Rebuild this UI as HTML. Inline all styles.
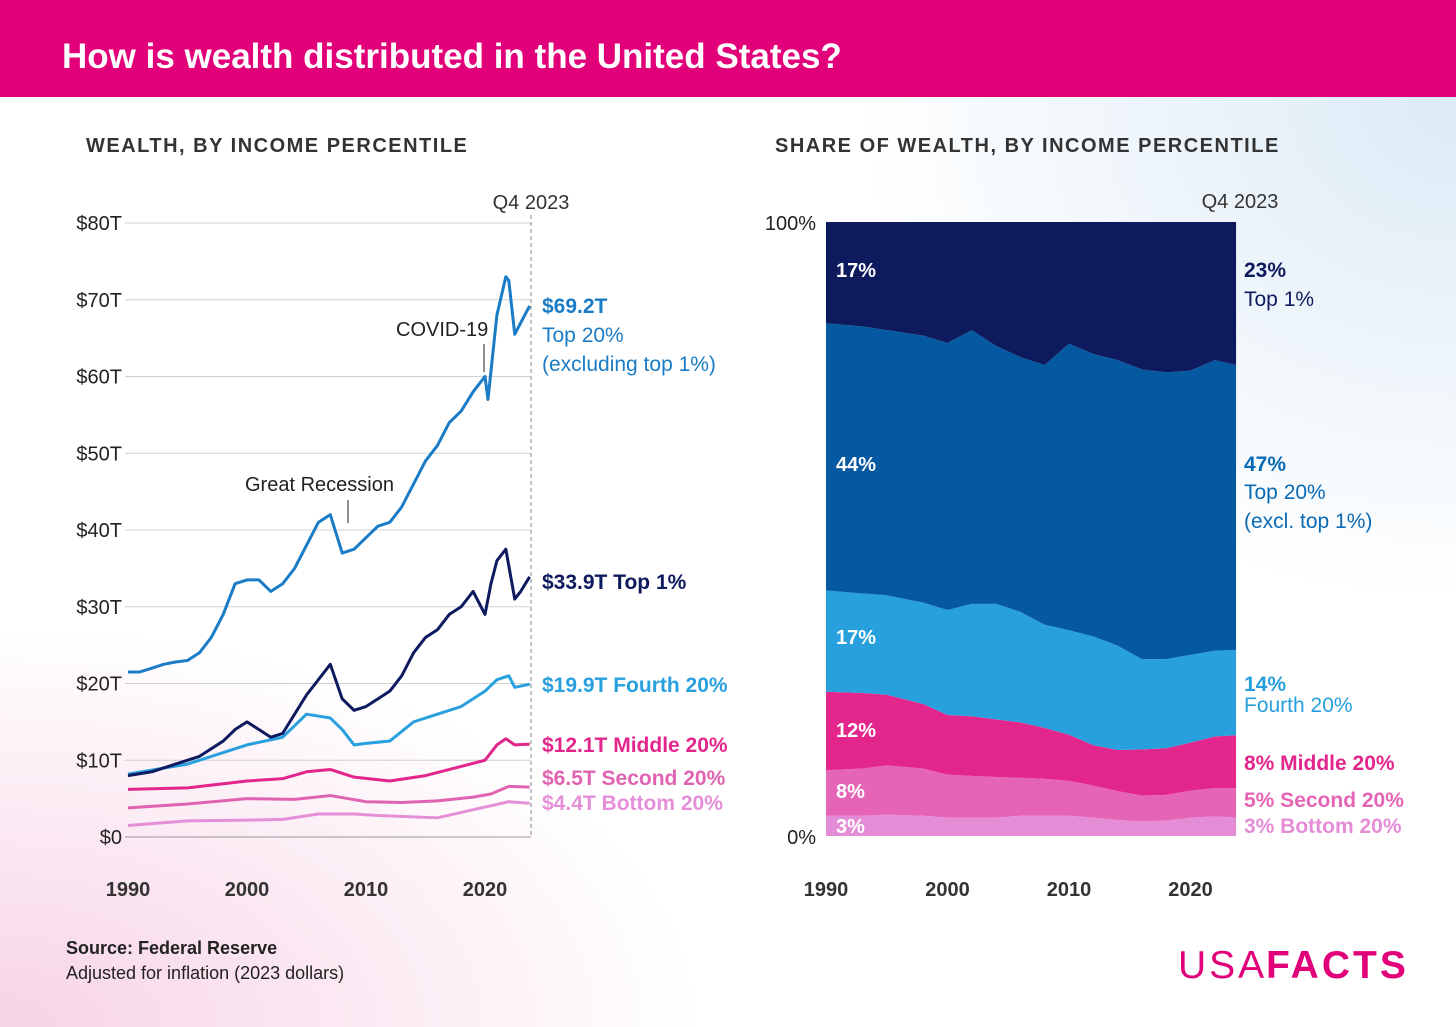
<!DOCTYPE html>
<html><head><meta charset="utf-8"><style>
body{margin:0;width:1456px;height:1027px;overflow:hidden;font-family:"Liberation Sans",sans-serif;}
#bg{position:absolute;left:0;top:0;width:1456px;height:1027px;background:
radial-gradient(ellipse 700px 400px at 0% 100%,#f7d3e6 0%,rgba(255,255,255,0) 100%),
radial-gradient(ellipse 600px 500px at 100% 10%,#dcebf6 0%,rgba(255,255,255,0) 100%),#fff;}
#hdr{position:absolute;left:0;top:0;width:1456px;height:97px;background:#e2007a;}
#hdr span{position:absolute;left:62px;top:37px;color:#fff;font-size:35px;font-weight:bold;}
svg{position:absolute;left:0;top:0}
</style></head><body>
<div id="bg"></div>
<div id="hdr"><span>How is wealth distributed in the United States?</span></div>
<svg id="s" width="1456" height="1027" font-family="Liberation Sans, sans-serif"></svg>
<script>
// ---- left chart data (trillions, 2023 dollars) ----
const top20Years=[1990,1991,1992,1993,1994,1995,1996,1997,1998,1999,2000,2001,2002,2003,2004,2005,2006,2007,2008,2009,2010,2011,2012,2013,2014,2015,2016,2017,2018,2019,2020,2020.25,2021,2021.75,2022,2022.5,2023,2023.75];
const top20Vals=[21.5,21.5,22,22.5,22.8,23,24,26,29,33,33.5,33.5,32,33,35,38,41,42,37,37.5,39,40.5,41,43,46,49,51,54,55.5,58,60,57,68,73,72.5,65.5,67,69.2];
const top1Years=[1990,1992,1994,1996,1998,1999,2000,2001,2002,2003,2004,2005,2006,2007,2008,2009,2010,2011,2012,2013,2014,2015,2016,2017,2018,2019,2020,2020.5,2021,2021.75,2022.5,2023,2023.75];
const top1Vals=[8,8.5,9.5,10.5,12.5,14,15,14,13,13.5,16,18.5,20.5,22.5,18,16.5,17,18,19,21,24,26,27,29,30,32,29,33,36,37.5,31,32,33.9];
const fourthYears=[1990,1995,2000,2003,2005,2007,2008,2009,2010,2012,2014,2016,2018,2020,2021,2022,2022.5,2023.75];
const fourthVals=[8.2,9.5,12,13,16,15.5,14,12,12.2,12.5,15,16,17,19,20.5,21,19.5,19.9];
const middleYears=[1990,1995,2000,2003,2005,2007,2009,2012,2015,2018,2020,2021,2021.75,2022.5,2023.75];
const middleVals=[6.2,6.4,7.3,7.6,8.5,8.8,7.8,7.3,8,9.2,10,12,12.8,12,12.1];
const secondYears=[1990,1995,2000,2004,2007,2010,2013,2016,2019,2020.5,2022,2023.75];
const secondVals=[3.8,4.3,5,4.9,5.4,4.6,4.5,4.7,5.2,5.6,6.6,6.5];
const bottomYears=[1990,1995,2000,2003,2006,2009,2011,2016,2018,2020,2022,2023.75];
const bottomVals=[1.5,2.1,2.2,2.3,3.0,3.0,2.8,2.5,3.2,3.9,4.6,4.4];
const yTicks=[0,10,20,30,40,50,60,70,80];
const xTicks=[1990,2000,2010,2020];
// ---- right chart data (share %) ----
const shareYears=[1990,1993,1995,1998,2000,2002,2004,2006,2008,2010,2012,2014,2016,2018,2020,2022,2023.75];
const shareBottom=[3.3,3.3,3.5,3.3,3.0,3.0,3.0,3.3,3.3,3.3,3.0,2.6,2.4,2.5,3.0,3.2,3.0];
const shareSecond=[7.4,7.7,8.0,7.7,7.0,6.8,6.6,6.2,6.0,5.7,5.2,4.7,4.2,4.2,4.4,4.6,4.8];
const shareMiddle=[12.8,12.3,11.5,10.5,9.7,9.7,9.4,9.0,8.3,7.5,6.6,6.7,7.5,7.6,7.8,8.4,8.6];
const shareFourth=[16.5,16.2,16.2,16.5,17.1,18.3,18.8,18.0,16.8,17.0,17.7,17.0,14.7,14.5,14.3,14.0,13.9];
const shareTop20=[43.5,43.5,43.2,43.5,43.5,44.6,42.0,41.5,42.3,46.7,46.0,46.5,47.2,46.7,46.3,47.3,46.4];
const shareTop1=[16.5,17,17.6,18.5,19.7,17.6,20.2,22,23.3,19.8,21.5,22.5,24,24.5,24.2,22.5,23.3];

const NS="http://www.w3.org/2000/svg",S=document.getElementById('s');
function el(t,a,txt){const e=document.createElementNS(NS,t);for(const k in a)e.setAttribute(k,a[k]);if(txt!==undefined)e.textContent=txt;S.appendChild(e);return e;}
const lx=y=>128+(y-1990)*11.9, ly=v=>837-v*7.675;
const rx=y=>826+(y-1990)*12.15, ry=p=>836-p*6.14;

let t=el('text',{x:86,y:152,'font-size':20,'font-weight':'bold',fill:'#333','letter-spacing':'1.5'},'WEALTH, BY INCOME PERCENTILE');

t=el('text',{x:775,y:152,'font-size':20,'font-weight':'bold',fill:'#333','letter-spacing':'1.5'},'SHARE OF WEALTH, BY INCOME PERCENTILE');


yTicks.forEach(v=>{
 const g=el('line',{x1:125,x2:531,y1:ly(v),y2:ly(v),stroke:v?'#d0d0d0':'#999','stroke-width':1});
 
 const l=el('text',{x:122,y:ly(v)+7,'font-size':20,fill:'#222','text-anchor':'end'},'$'+v+(v?'T':''));
 
});
xTicks.forEach(y=>{
 const a=el('text',{x:lx(y),y:896,'font-size':20,'font-weight':'bold',fill:'#333','text-anchor':'middle'},y);
 
 const b=el('text',{x:rx(y),y:896,'font-size':20,'font-weight':'bold',fill:'#333','text-anchor':'middle'},y);
 
});
let d=el('line',{x1:531,x2:531,y1:215,y2:837,stroke:'#888','stroke-dasharray':'4,3'});

t=el('text',{x:531,y:209,'font-size':20,fill:'#333','text-anchor':'middle'},'Q4 2023');


const series=[[bottomYears,bottomVals,'#e58fd8','bottom-20-line'],[secondYears,secondVals,'#e063b2','second-20-line'],[middleYears,middleVals,'#e3268c','middle-20-line'],[fourthYears,fourthVals,'#29a0de','fourth-20-line'],[top1Years,top1Vals,'#0d1a5e','top-1-line'],[top20Years,top20Vals,'#1a7cc6','top-20-line']];
series.forEach(s=>{
 const p=el('polyline',{points:s[0].map((y,i)=>lx(y)+','+ly(s[1][i])).join(' '),fill:'none',stroke:s[2],'stroke-width':3,'stroke-linejoin':'round'});
 
});
const labs=[[313,'$69.2T','#1a7cc6',1],[342,'Top 20%','#1a7cc6',0],[371,'(excluding top 1%)','#1a7cc6',0],[589,'$33.9T Top 1%','#0d1a5e',1],[692,'$19.9T Fourth 20%','#29a0de',1],[752,'$12.1T Middle 20%','#e3268c',1],[785,'$6.5T Second 20%','#e063b2',1],[810,'$4.4T Bottom 20%','#e58fd8',1]];
labs.forEach(l=>{const e=el('text',{x:542,y:l[0],'font-size':21,fill:l[2],'font-weight':l[3]?'bold':'normal'},l[1]);});
t=el('text',{x:396,y:336,'font-size':20,fill:'#222'},'COVID-19');
d=el('line',{x1:484,x2:484,y1:344,y2:372,stroke:'#222'});
t=el('text',{x:245,y:491,'font-size':20,fill:'#222'},'Great Recession');
d=el('line',{x1:348,x2:348,y1:500,y2:523,stroke:'#222'});

// right stacked areas
const groups=[[shareBottom,'#e48dd6','bottom-20-area'],[shareSecond,'#e564b5','second-20-area'],[shareMiddle,'#e3268c','middle-20-area'],[shareFourth,'#27a0dd','fourth-20-area'],[shareTop20,'#0559a0','top-20-area'],[shareTop1,'#0d1a5e','top-1-area']];
const tot=shareYears.map((_,i)=>groups.reduce((a,g)=>a+g[0][i],0));
let base=shareYears.map(()=>0);
groups.forEach(g=>{
 const top=base.map((b,i)=>b+g[0][i]/tot[i]*100);
 const pts=shareYears.map((y,i)=>rx(y)+','+ry(top[i])).concat(shareYears.map((y,i)=>rx(y)+','+ry(base[i])).reverse());
 const p=el('polygon',{points:pts.join(' '),fill:g[1]});
 
 base=top;
});
[[230,'100%'],[844,'0%']].forEach(a=>{const e=el('text',{x:816,y:a[0],'font-size':20,fill:'#222','text-anchor':'end'},a[1]);});
t=el('text',{x:1240,y:208,'font-size':20,fill:'#333','text-anchor':'middle'},'Q4 2023');
[[277,'17%'],[471,'44%'],[644,'17%'],[737,'12%'],[798,'8%'],[833,'3%']].forEach(a=>{const e=el('text',{x:836,y:a[0],'font-size':20,'font-weight':'bold',fill:'#fff'},a[1]);});
const rl=[[277,'23%','#0d1a5e',1],[306,'Top 1%','#0d1a5e',0],[471,'47%','#0a6ab4',1],[499,'Top 20%','#0a6ab4',0],[528,'(excl. top 1%)','#0a6ab4',0],[691,'14%','#27a0dd',1],[712,'Fourth 20%','#27a0dd',0],[770,'8% Middle 20%','#e3268c',1],[807,'5% Second 20%','#e564b5',1],[833,'3% Bottom 20%','#e48dd6',1]];
rl.forEach(l=>{const e=el('text',{x:1244,y:l[0],'font-size':21,fill:l[2],'font-weight':l[3]?'bold':'normal'},l[1]);});

t=el('text',{x:66,y:954,'font-size':18,'font-weight':'bold',fill:'#222'},'Source: Federal Reserve');
t=el('text',{x:66,y:979,'font-size':18,fill:'#222'},'Adjusted for inflation (2023 dollars)');
t=el('text',{x:1178,y:978,'font-size':39,fill:'#e2007a','letter-spacing':'3'},'USA');
t=el('text',{x:1266,y:978,'font-size':39,'font-weight':'bold',fill:'#e2007a','letter-spacing':'3'},'FACTS');
</script>
</body></html>
